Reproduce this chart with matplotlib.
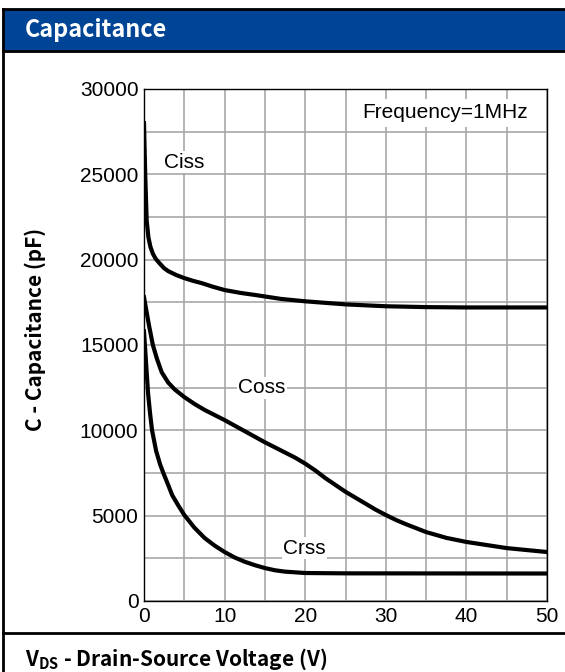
import matplotlib
matplotlib.use("Agg")
import matplotlib.pyplot as plt
from matplotlib.patches import Rectangle
from matplotlib.lines import Line2D

# values (V in volts, C in pF)
ciss_v = [0, 0.15, 0.33, 0.55, 0.8, 1.1, 1.45, 2, 2.5, 3, 4, 5, 6, 7.2, 8.5, 10, 12,
          13.8, 17, 20, 25, 30, 35, 40, 50]
ciss_c = [28000, 25000, 22300, 21300, 20750, 20350, 20050, 19750, 19500, 19330, 19100,
          18920, 18770, 18620, 18420, 18220, 18050, 17930, 17700, 17560, 17380, 17270,
          17220, 17200, 17200]

coss_v = [0, 0.3, 0.6, 1.1, 1.6, 2.2, 3, 3.8, 5, 6.25, 7.5, 8.75, 10, 12.5, 15, 17.5,
          18.75, 20, 21.25, 22.5, 23.75, 25, 26.25, 27.5, 28.75, 30, 31.25, 32.5, 35,
          37.5, 40, 45, 50]
coss_c = [17800, 17000, 16200, 15000, 14200, 13400, 12800, 12400, 11950, 11550, 11200,
          10900, 10600, 9950, 9300, 8700, 8400, 8050, 7650, 7200, 6800, 6400, 6050, 5700,
          5350, 5040, 4750, 4500, 4040, 3700, 3460, 3100, 2870]

crss_v = [0, 0.25, 0.5, 0.75, 1, 1.5, 2, 2.4, 3, 3.5, 4.25, 5, 6.25, 7.5, 8.75, 10,
          11.25, 12.5, 13.75, 15, 16.25, 17.5, 20, 25, 50]
crss_c = [15800, 14000, 12200, 11000, 10000, 8800, 8000, 7500, 6800, 6200, 5600, 5040,
          4300, 3700, 3250, 2870, 2550, 2300, 2100, 1930, 1800, 1720, 1640, 1620, 1610]

curve_labels = ["Ciss", "Coss", "Crss"]
label_pos = [(5.0, 25700), (14.6, 12500), (19.9, 3100)]

W, H = 565, 672
fig = plt.figure(figsize=(W / 100, H / 100), dpi=100)

def fx(px):
    return px / W

def fy(py):
    return 1 - py / H

# header bar and frame
fig.patches.append(Rectangle((fx(3), fy(51)), 1 - fx(3), (51 - 9) / H,
                             transform=fig.transFigure, color="#004595", zorder=0))
for (x0, y0, x1, y1) in [(3, 9, 565, 9), (3, 51, 565, 51), (3, 633, 565, 633), (3, 9, 3, 672)]:
    fig.lines.append(Line2D([fx(x0), fx(x1)], [fy(y0), fy(y1)], transform=fig.transFigure,
                            color="black", lw=2))

bold = ["Noto Sans CJK SC", "DejaVu Sans"]
fig.text(fx(25), fy(30), "Capacitance", color="white", fontsize=16.8, fontweight="bold",
         family=bold, va="center", ha="left")
fig.text(fx(25), fy(659), r"V$_{\mathregular{DS}}$ - Drain-Source Voltage (V)", color="black",
         fontsize=15, fontweight="bold", family=bold, va="center", ha="left")
fig.text(fx(35), fy(329), "C - Capacitance (pF)", color="black", fontsize=15,
         fontweight="bold", family=bold, va="center", ha="center", rotation=90)

ax = fig.add_axes([fx(144), fy(601), (547 - 144) / W, (601 - 89) / H])
ax.plot(ciss_v, ciss_c, color="black", lw=3, solid_joinstyle="round", zorder=3)
ax.plot(coss_v, coss_c, color="black", lw=3, solid_joinstyle="round", zorder=3)
ax.plot(crss_v, crss_c, color="black", lw=3, solid_joinstyle="round", zorder=3)

ax.set_xlim(0, 50)
ax.set_ylim(0, 30000)
ax.set_xticks(range(0, 51, 10))
ax.set_xticks(range(0, 51, 5), minor=True)
ax.set_yticks(range(0, 30001, 5000))
ax.set_yticks(range(0, 30001, 2500), minor=True)
ax.grid(True, which="both", color="#a8a8a8", lw=1.2, zorder=1)
ax.set_axisbelow(True)
ax.tick_params(which="both", length=0, labelsize=15, pad=4)
for lab in ax.get_xticklabels() + ax.get_yticklabels():
    lab.set_family("Liberation Sans")
for s in ax.spines.values():
    s.set_color("black")
    s.set_linewidth(1)

tf = "Liberation Sans"
for name, (x, y) in zip(curve_labels, label_pos):
    ax.text(x, y, name, family=tf, fontsize=15, ha="center", va="center", zorder=4,
            bbox=dict(facecolor="white", edgecolor="none", pad=1))
ax.text(37.4, 28600, "Frequency=1MHz", family=tf, fontsize=15, ha="center", va="center",
        zorder=4, bbox=dict(facecolor="white", edgecolor="none", pad=3))

fig.savefig("out.png", dpi=100)
